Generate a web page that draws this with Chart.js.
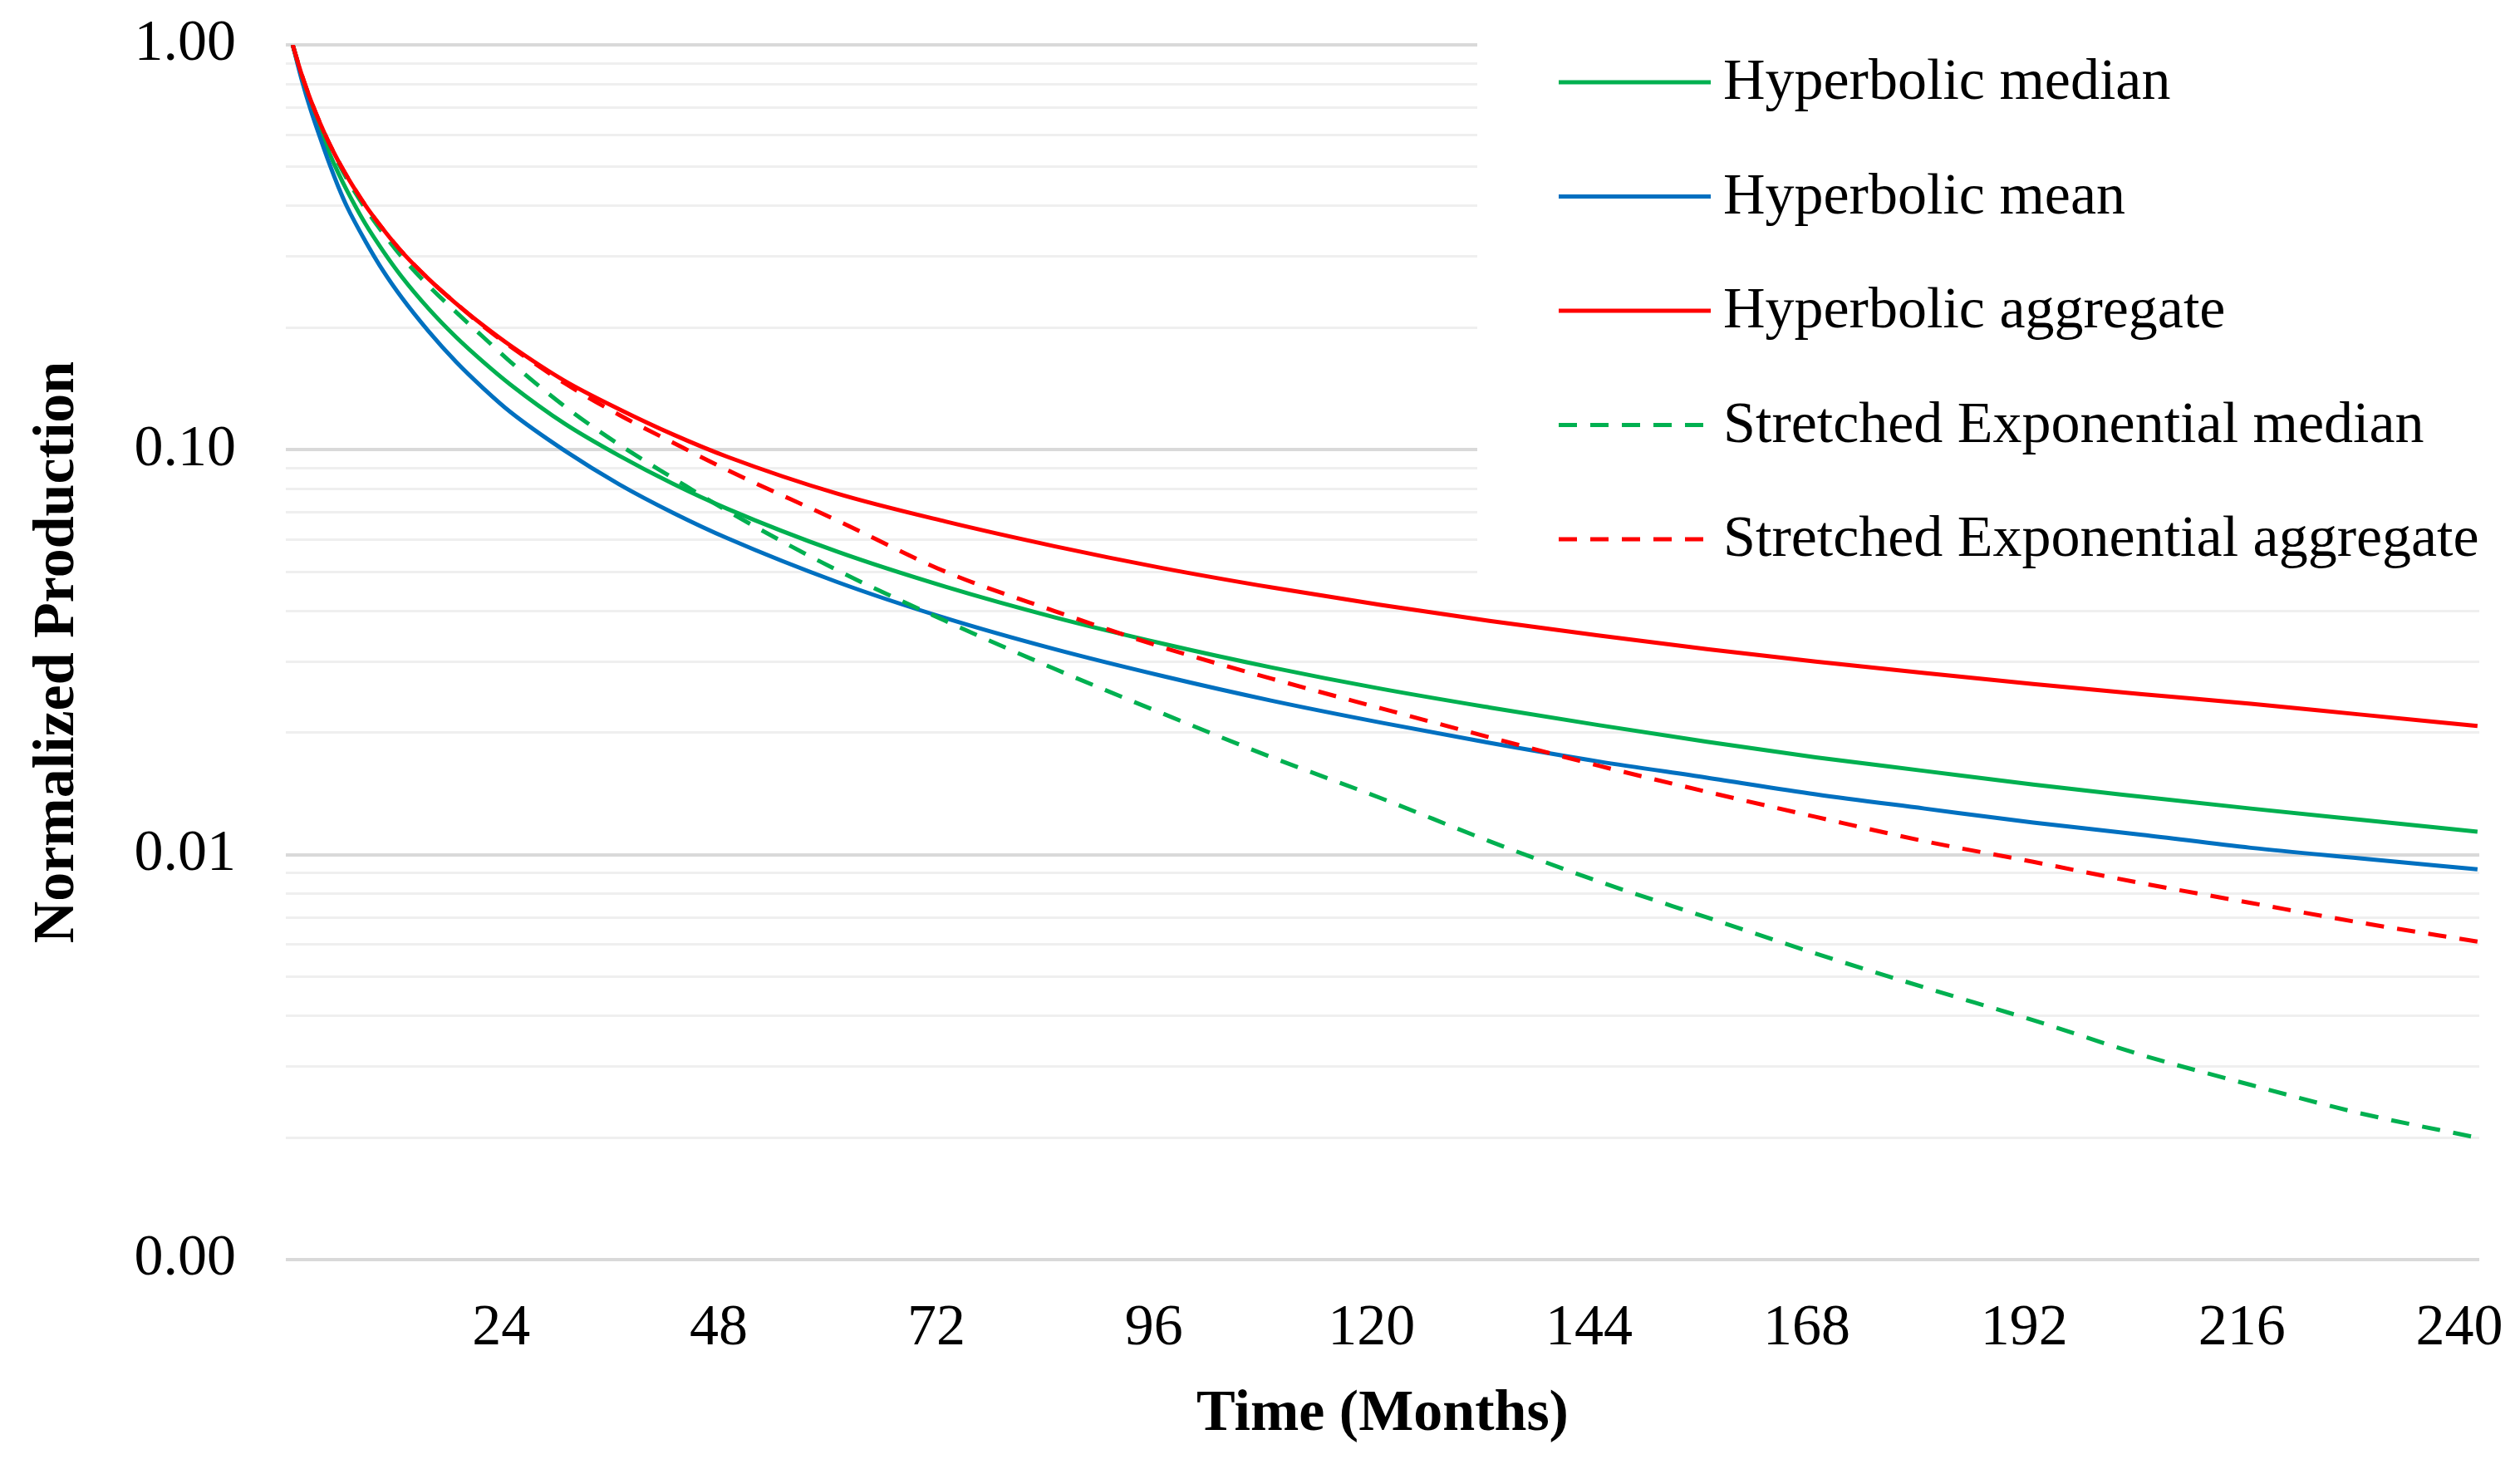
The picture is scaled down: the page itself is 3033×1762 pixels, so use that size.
<!DOCTYPE html>
<html>
<head>
<meta charset="utf-8">
<script src="https://cdn.jsdelivr.net/npm/chart.js@4.4.1/dist/chart.umd.min.js"></script>
<style>
html,body{margin:0;padding:0;background:#fff;overflow:hidden}
#wrap{width:3033px;height:1762px;position:relative}
</style>
</head>
<body>
<div id="wrap"><canvas id="c" width="3033" height="1762"></canvas></div>
<script>
// ---- data ----
const months = [1,2,3,4,5,6,7,9,11,13,16,19,22,25,31,37,43,49,61,73,85,97,109,121,133,145,157,169,181,193,205,217,229,242];
const hypMedian = [1.0,0.832,0.709,0.616,0.543,0.484,0.436,0.362,0.309,0.268,0.223,0.190,0.165,0.145,0.116,0.0967,0.0823,0.0714,0.0561,0.0459,0.0386,0.0332,0.0290,0.0257,0.0231,0.0209,0.0190,0.0174,0.0161,0.0149,0.0139,0.0130,0.0122,0.0114];
const hypMean = [1.0,0.819,0.689,0.592,0.512,0.448,0.398,0.328,0.276,0.238,0.196,0.165,0.142,0.124,0.0995,0.0822,0.0698,0.0604,0.0472,0.0384,0.0322,0.0276,0.0240,0.0212,0.0189,0.0170,0.0155,0.0141,0.0130,0.0120,0.0112,0.0104,0.0098,0.0092];
const hypAggregate = [1.0,0.843,0.729,0.642,0.573,0.518,0.473,0.402,0.350,0.309,0.264,0.230,0.203,0.181,0.148,0.126,0.109,0.096,0.078,0.0665,0.0578,0.0510,0.0457,0.0414,0.0378,0.0348,0.0322,0.0300,0.0281,0.0264,0.0249,0.0236,0.0222,0.0208];
const seMedian = [1.0,0.84,0.725,0.637,0.568,0.512,0.466,0.395,0.342,0.300,0.254,0.219,0.190,0.165,0.128,0.103,0.085,0.0705,0.0505,0.0378,0.0288,0.0223,0.0174,0.0138,0.0108,0.0086,0.0070,0.0057,0.0047,0.0039,0.0032,0.0027,0.0023,0.0020];
const seAggregate = [1.0,0.843,0.729,0.642,0.573,0.518,0.473,0.402,0.350,0.309,0.264,0.230,0.202,0.180,0.146,0.122,0.104,0.0890,0.067,0.050,0.040,0.0325,0.0272,0.0230,0.0195,0.0166,0.0143,0.0124,0.0108,0.0096,0.0085,0.0076,0.0068,0.0061];
const seriesLabels = ['Hyperbolic median','Hyperbolic mean','Hyperbolic aggregate','Stretched Exponential median','Stretched Exponential aggregate'];
const xTickValues = [24,48,72,96,120,144,168,192,216,240];
const yDecades = [0.001,0.01,0.1,1];
const xTitle = 'Time (Months)';
const yTitle = 'Normalized Production';

// ---- styling ----
const GREEN = '#00B050', BLUE = '#0070C0', RED = '#FF0000';
const FONT = '"Liberation Serif","Times New Roman",serif';
const seriesValues = [hypMedian, hypMean, hypAggregate, seMedian, seAggregate];
const seriesColors = [GREEN, BLUE, RED, GREEN, RED];
const seriesDash = [[], [], [], [22,16], [22,16]];

function isMajor(v){ const l = Math.log10(v); return Math.abs(l - Math.round(l)) < 1e-9; }

const datasets = seriesValues.map((vals, i) => ({
  label: seriesLabels[i],
  data: months.map((m, k) => ({x: m, y: vals[k]})),
  borderColor: seriesColors[i],
  backgroundColor: seriesColors[i],
  borderWidth: 5,
  borderDash: seriesDash[i],
  pointRadius: 0,
  fill: false,
  cubicInterpolationMode: 'monotone',
  order: seriesValues.length - i
}));

const insideLegend = {
  id: 'insideLegend',
  beforeDatasetsDraw(chart) {
    const ctx = chart.ctx;
    ctx.save();
    ctx.fillStyle = '#ffffff';
    ctx.fillRect(1778, 0, chart.width - 1778, 712);
    chart.data.datasets.forEach((ds, i) => {
      const y = 99 + i * 137.5;
      ctx.strokeStyle = ds.borderColor;
      ctx.lineWidth = 5;
      ctx.setLineDash(ds.borderDash || []);
      ctx.beginPath();
      ctx.moveTo(1876, y);
      ctx.lineTo(2059, y);
      ctx.stroke();
      ctx.setLineDash([]);
      ctx.fillStyle = '#000';
      ctx.font = '70px ' + FONT;
      ctx.textBaseline = 'middle';
      ctx.textAlign = 'left';
      ctx.fillText(ds.label, 2074, y + 2);
    });
    ctx.restore();
  }
};

new Chart(document.getElementById('c'), {
  type: 'line',
  data: { datasets },
  plugins: [insideLegend],
  options: {
    responsive: false,
    devicePixelRatio: 1,
    animation: false,
    layout: { padding: { left: 0, right: 49, top: 54, bottom: 0 } },
    plugins: { legend: { display: false }, tooltip: { enabled: false } },
    scales: {
      x: {
        type: 'linear',
        min: 0.24,
        max: 242.2,
        afterBuildTicks: s => { s.ticks = xTickValues.map(v => ({value: v})); },
        afterFit: s => { s.height = 246; s.paddingLeft = 0; s.paddingRight = 0; },
        grid: { display: false, drawTicks: false },
        border: { display: false },
        ticks: {
          autoSkip: false, maxRotation: 0, padding: 42, color: '#000',
          font: { family: FONT, size: 70 },
          callback: v => String(v)
        },
        title: {
          display: true, text: xTitle, color: '#000',
          font: { family: FONT, size: 70, weight: 'bold' },
          padding: { top: 0, bottom: 17 }
        }
      },
      y: {
        type: 'logarithmic',
        min: 0.001,
        max: 1,
        afterBuildTicks: s => {
          const t = [];
          for (let d = 0; d < yDecades.length - 1; d++) {
            for (let k = 1; k <= 9; k++) t.push({value: +(yDecades[d] * k).toPrecision(6)});
          }
          t.push({value: yDecades[yDecades.length - 1]});
          s.ticks = t;
        },
        afterFit: s => { s.width = 344; s.paddingTop = 0; s.paddingBottom = 0; },
        grid: {
          drawTicks: false,
          color: c => isMajor(c.tick.value) ? '#d9d9d9' : '#efefef',
          lineWidth: c => isMajor(c.tick.value) ? 4 : 3
        },
        border: { display: false },
        ticks: {
          autoSkip: false, padding: 60, color: '#000',
          font: { family: FONT, size: 70 },
          callback: v => isMajor(v) ? Number(v).toFixed(2) : ''
        },
        title: {
          display: true, text: yTitle, color: '#000',
          font: { family: FONT, size: 70, weight: 'bold' },
          padding: { top: 28, bottom: 0 }
        }
      }
    }
  }
});
</script>
</body>
</html>
